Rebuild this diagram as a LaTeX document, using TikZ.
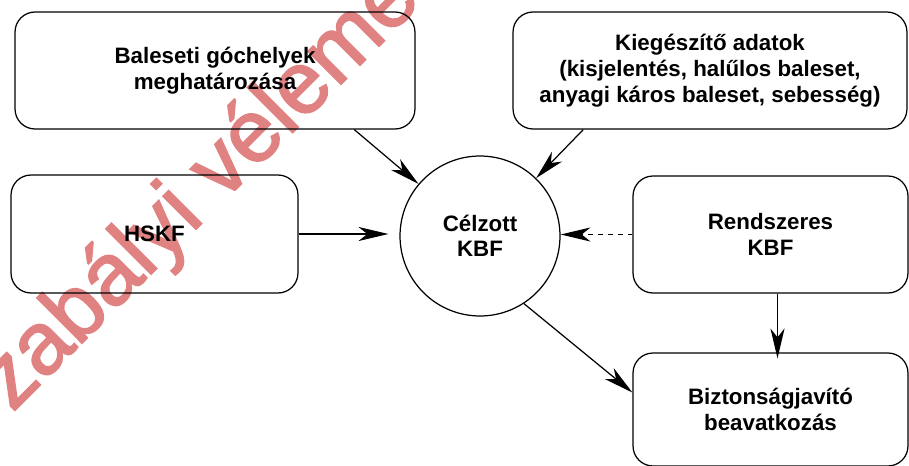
\documentclass[tikz,border=0pt]{standalone}
\usepackage{fontspec}
\setmainfont{Liberation Sans}
\newfontfamily\wmfont[FakeBold=2]{Liberation Sans}
\usetikzlibrary{arrows.meta}
\definecolor{wmred}{RGB}{225,130,130}
\tikzset{
	box/.style={draw, rounded corners=0.4cm, line width=0.7pt, align=center, inner sep=0pt,
		font=\bfseries\fontsize{12.7}{14.7}\selectfont},
	hub/.style={draw, circle, line width=0.7pt, minimum size=3.2cm, align=center, inner sep=0pt,
		font=\bfseries\fontsize{12.7}{14.2}\selectfont},
	arr/.style={-{Stealth[length=17pt, width=8pt, inset=5pt]}, line width=0.7pt},
	wm/.style={text=wmred, font=\wmfont\fontsize{50}{50}\selectfont, inner sep=0pt}
}

\begin{document}
\begin{tikzpicture}[x=0.02cm, y=-0.02cm]
	\clip (0,0) rectangle (909,466);

	\node[wm, rotate=45, anchor=base west] (wmark) at (12,413) {zabályi vélemény};

	\node[box, minimum width=8cm, minimum height=2.34cm] (bal) at (215,70.5) {Baleseti góchelyek\\meghatározása};
	\node[box, minimum width=7.88cm, minimum height=2.34cm] (kieg) at (710,70.5) {Kiegészítő adatok\\(kisjelentés, halűlos baleset,\\anyagi káros baleset, sebesség)};
	\node[box, minimum width=5.74cm, minimum height=2.36cm] (hskf) at (154.5,234) {HSKF};
	\node[hub] (celz) at (480,236) {Célzott\\KBF};
	\node[box, minimum width=5.5cm, minimum height=2.34cm] (rend) at (770.5,234.5) {Rendszeres\\KBF};
	\node[box, minimum width=5.5cm, minimum height=2.26cm] (bizt) at (770.5,409.5) {Biztonságjavító\\beavatkozás};

	\draw[arr] (bal.-23.5) -- (celz);
	\draw[arr] (kieg.205.5) -- (celz);
	\draw[arr, shorten >=0.22cm] (hskf.east) -- (hskf.east -| celz.west);
	\draw[arr, dash pattern=on 2.8pt off 2.8pt] (rend.west) -- (rend.west -| celz.east);
	\draw[arr] (celz.-57) -- (bizt.173);
	\draw[arr, shorten >=-0.12cm] ([xshift=0.14cm]rend.south) -- ([xshift=0.14cm]bizt.north);
\end{tikzpicture}
\end{document}
